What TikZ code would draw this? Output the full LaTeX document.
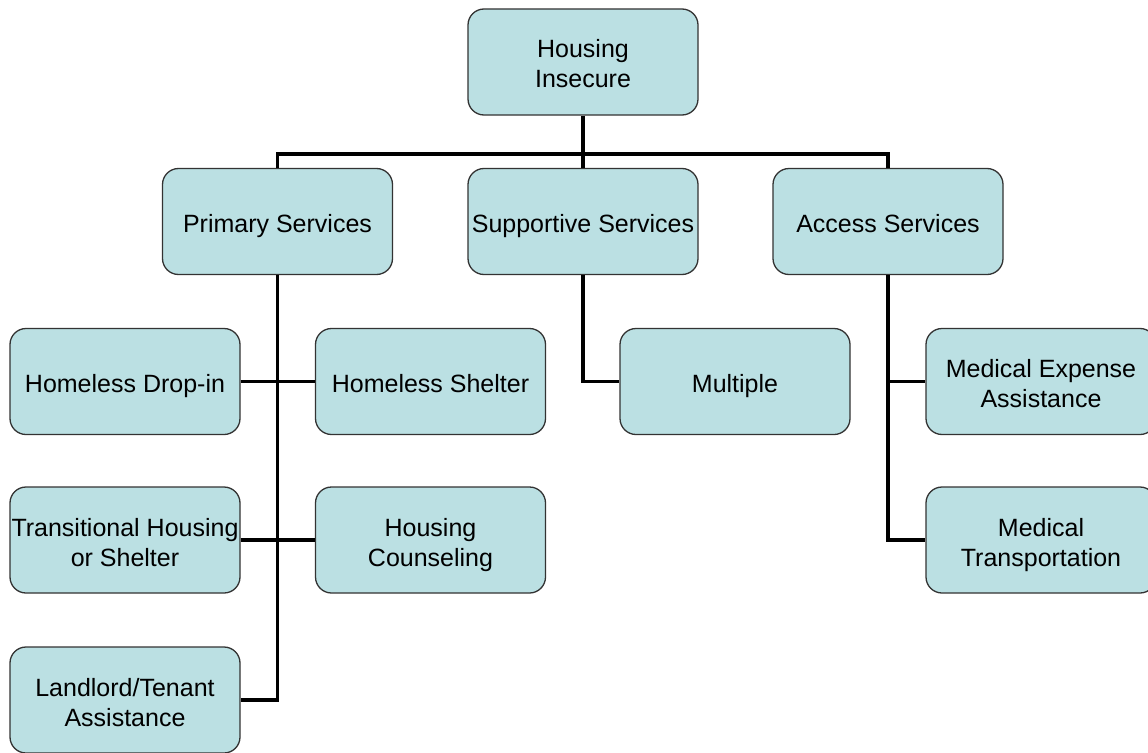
\documentclass[tikz,border=0pt]{standalone}
\usepackage{fontspec}
\setmainfont{Liberation Sans}
\definecolor{boxfill}{HTML}{BBE0E3}
\definecolor{boxline}{HTML}{333333}
\newcommand{\topst}{\rule{0pt}{28pt}}
\newcommand{\botst}{\rule[-6pt]{0pt}{6pt}}
\tikzset{
  orgbox/.style={draw=boxline, line width=1.3pt, fill=boxfill, rounded corners=16pt,
    minimum width=230pt, minimum height=106pt, inner sep=0pt, align=center,
    font=\fontsize{25}{30}\selectfont},
  link/.style={draw=black, line width=3.8pt}
}
\begin{document}
\begin{tikzpicture}[x=1pt,y=-1pt]
\useasboundingbox (0,0) rectangle (1148,752);
\clip (0,0) rectangle (1148,752);
\fill[white] (0,0) rectangle (1148,752);
% boxes
\node[orgbox] (hi) at (583,62) {\topst Housing\\Insecure\botst};
\node[orgbox] (ps) at (277.5,221.5) {\topst Primary Services\botst};
\node[orgbox] (ss) at (583,221.5) {\topst Supportive Services\botst};
\node[orgbox] (as) at (888,221.5) {\topst Access Services\botst};
\node[orgbox] (hd) at (125,381.5) {\topst Homeless Drop-in\botst};
\node[orgbox] (hs) at (430.5,381.5) {\topst Homeless Shelter\botst};
\node[orgbox] (mu) at (735,381.5) {\topst Multiple\botst};
\node[orgbox] (me) at (1041,381.5) {\topst Medical Expense\\Assistance\botst};
\node[orgbox] (th) at (125,540) {\topst Transitional Housing\\or Shelter\botst};
\node[orgbox] (hc) at (430.5,540) {\topst Housing\\Counseling\botst};
\node[orgbox] (mt) at (1041,540) {\topst Medical\\Transportation\botst};
\node[orgbox] (lt) at (125,700) {\topst Landlord/Tenant\\Assistance\botst};
% connectors
\coordinate (bar) at (583,154);
\path[link] (hi.south) -- (ss.north);
\path[link] (ps.north) |- (bar) -| (as.north);
\path[link] (ps.south) |- (lt.east);
\path[link] (hd.east) -- (hs.west);
\path[link] (th.east) -- (hc.west);
\path[link] (ss.south) |- (mu.west);
\path[link] (as.south) |- (mt.west);
\path[link] (as.south |- me.west) -- (me.west);
\end{tikzpicture}
\end{document}
